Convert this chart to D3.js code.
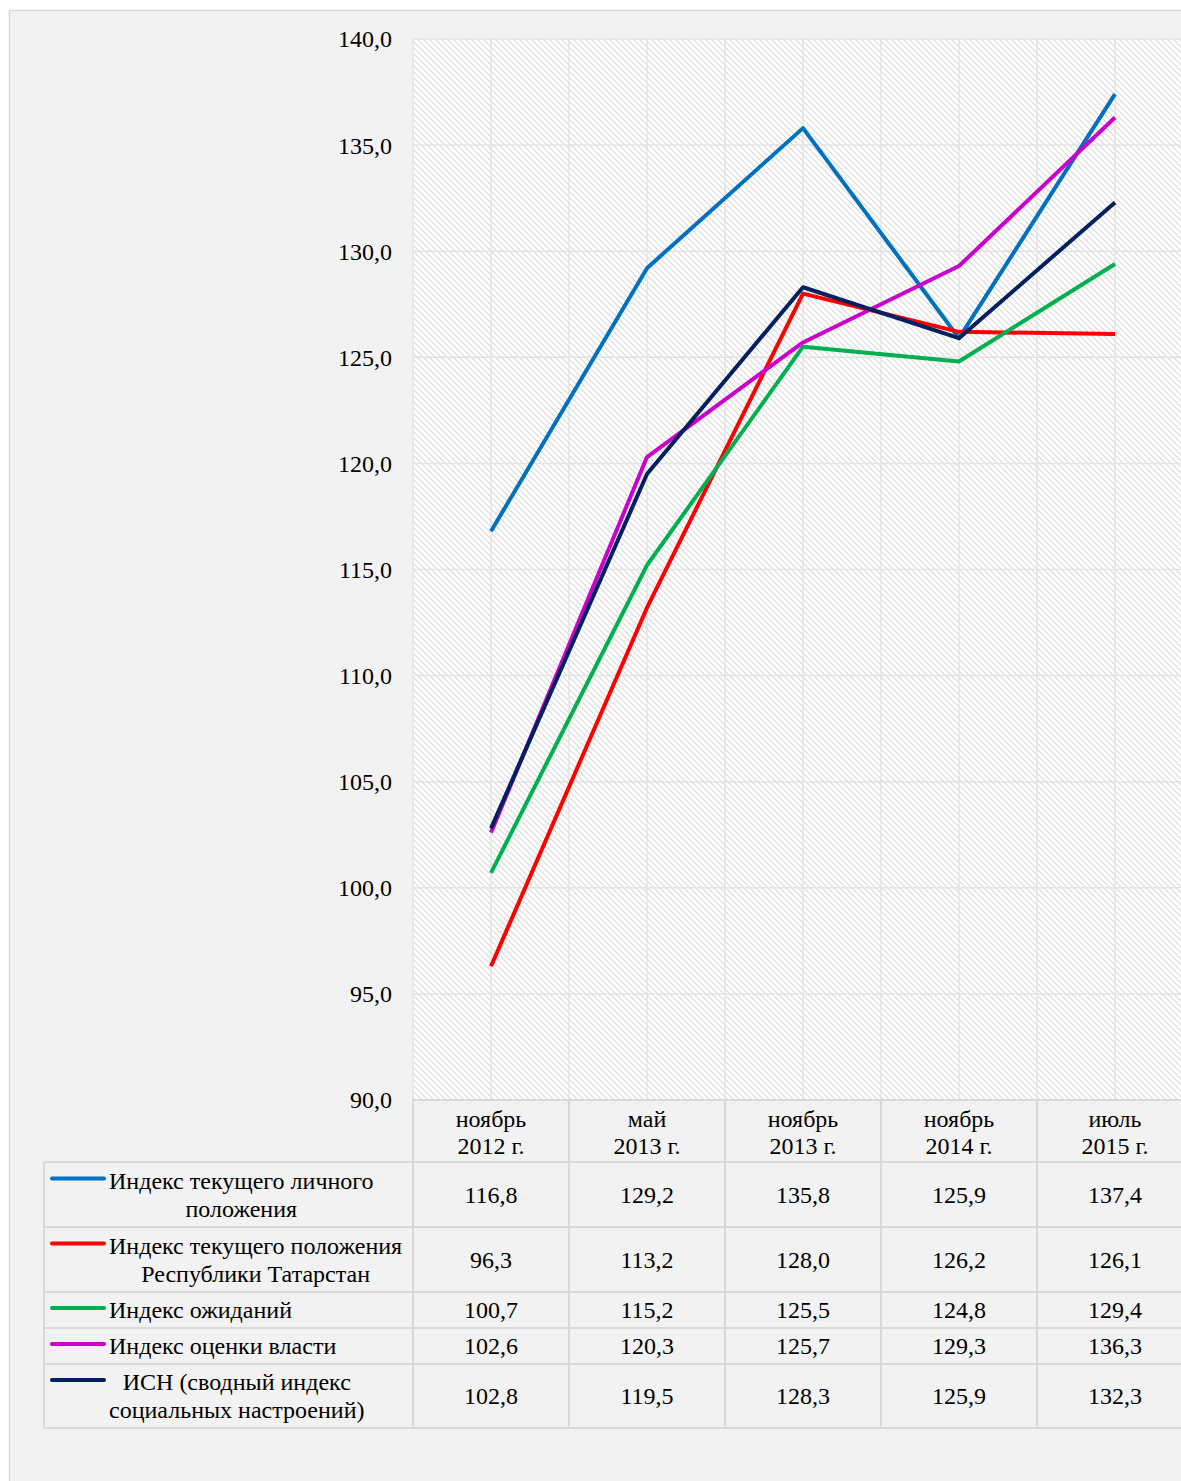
<!DOCTYPE html>
<html>
<head>
<meta charset="utf-8">
<script src="https://cdn.jsdelivr.net/npm/d3@7"></script>
<style>
  body { margin: 0; background: #fff; }
  text { font-family: "Liberation Serif", "Times New Roman", serif; fill: #000; }
</style>
</head>
<body>
<div id="chart"></div>
<script>
// data
var categories = [["ноябрь", "2012 г."], ["май", "2013 г."], ["ноябрь", "2013 г."], ["ноябрь", "2014 г."], ["июль", "2015 г."]];
var seriesNames = [
  ["Индекс текущего личного", "положения"],
  ["Индекс текущего положения", "Республики Татарстан"],
  ["Индекс ожиданий"],
  ["Индекс оценки власти"],
  ["ИСН (сводный индекс", "социальных настроений)"]
];
var personal = [116.8, 129.2, 135.8, 125.9, 137.4];
var republic = [96.3, 113.2, 128.0, 126.2, 126.1];
var expect = [100.7, 115.2, 125.5, 124.8, 129.4];
var power = [102.6, 120.3, 125.7, 129.3, 136.3];
var isn = [102.8, 119.5, 128.3, 125.9, 132.3];
var yTicks = [90, 95, 100, 105, 110, 115, 120, 125, 130, 135, 140];

var seriesValues = [personal, republic, expect, power, isn];
var colors = ["#0070c0", "#ff0000", "#00b050", "#cc00cc", "#002060"];

var W = 1181, H = 1481;
var fs = 24;
var svg = d3.select("#chart").append("svg")
  .attr("width", W).attr("height", H);

// chart area background
svg.append("rect")
  .attr("x", 9.5).attr("y", 10.5)
  .attr("width", W).attr("height", H)
  .attr("fill", "#f2f2f2")
  .attr("stroke", "#d9d9d9").attr("stroke-width", 1.5);

var defs = svg.append("defs");
var pat = defs.append("pattern")
  .attr("id", "hatch")
  .attr("patternUnits", "userSpaceOnUse")
  .attr("width", 6).attr("height", 6);
pat.append("rect").attr("width", 6).attr("height", 6).attr("fill", "#ffffff");
pat.append("path")
  .attr("d", "M0,0 L6,6 M-1,5 L1,7 M5,-1 L7,1")
  .attr("stroke", "#d9d9d9").attr("stroke-width", 1.1);

var plotLeft = 413, plotTop = 39, plotBottom = 1100;
var band = 156;
var plotRight = plotLeft + band * categories.length;

var x = d3.scaleBand()
  .domain(d3.range(categories.length))
  .range([plotLeft, plotRight]);
var y = d3.scaleLinear().domain([90, 140]).range([plotBottom, plotTop]);

// plot area
svg.append("rect")
  .attr("x", plotLeft).attr("y", plotTop)
  .attr("width", plotRight - plotLeft).attr("height", plotBottom - plotTop)
  .attr("fill", "url(#hatch)");

// gridlines
var grid = svg.append("g").attr("stroke", "#e3e3e3").attr("stroke-width", 1.5);
grid.selectAll(".hg").data(yTicks).enter().append("line")
  .attr("x1", plotLeft).attr("x2", plotRight)
  .attr("y1", function(d) { return y(d); })
  .attr("y2", function(d) { return y(d); });
var vlines = [];
d3.range(categories.length).forEach(function(i) {
  vlines.push(x(i));
  vlines.push(x(i) + x.bandwidth() / 2);
});
grid.selectAll(".vg").data(vlines).enter().append("line")
  .attr("x1", function(d) { return d; }).attr("x2", function(d) { return d; })
  .attr("y1", plotTop).attr("y2", plotBottom);

// y axis labels
svg.append("g").selectAll("text").data(yTicks).enter().append("text")
  .attr("x", 392)
  .attr("y", function(d) { return y(d); })
  .attr("dy", "0.35em")
  .attr("text-anchor", "end")
  .attr("font-size", fs)
  .text(function(d) { return d3.format(".1f")(d).replace(".", ","); });

// lines
var line = d3.line()
  .x(function(d, i) { return x(i) + x.bandwidth() / 2; })
  .y(function(d) { return y(d); });

seriesValues.forEach(function(vals, k) {
  svg.append("path")
    .datum(vals)
    .attr("d", line)
    .attr("fill", "none")
    .attr("stroke", colors[k])
    .attr("stroke-width", 4)
    .attr("stroke-linejoin", "round");
});

// data table
var rowEdges = [1162, 1227, 1292, 1328, 1364, 1428];
var tleft = 44;
var tg = svg.append("g");
var tb = tg.append("g").attr("stroke", "#d9d9d9").attr("stroke-width", 2).attr("fill", "none");
tb.append("line").attr("x1", plotLeft).attr("x2", W + 5).attr("y1", plotBottom).attr("y2", plotBottom);
rowEdges.forEach(function(r) {
  tb.append("line").attr("x1", tleft).attr("x2", W + 5).attr("y1", r).attr("y2", r);
});
tb.append("line").attr("x1", tleft).attr("x2", tleft).attr("y1", rowEdges[0]).attr("y2", rowEdges[rowEdges.length - 1]);
d3.range(categories.length + 1).forEach(function(i) {
  var xx = plotLeft + band * i;
  tb.append("line").attr("x1", xx).attr("x2", xx).attr("y1", plotBottom).attr("y2", rowEdges[rowEdges.length - 1]);
});

// category header
categories.forEach(function(c, i) {
  var cx = x(i) + x.bandwidth() / 2;
  var t = tg.append("text")
    .attr("text-anchor", "middle")
    .attr("font-size", fs);
  t.append("tspan").attr("x", cx).attr("y", 1119).attr("dy", "0.35em").text(c[0]);
  t.append("tspan").attr("x", cx).attr("y", 1146).attr("dy", "0.35em").text(c[1]);
});

// legend + values
seriesValues.forEach(function(vals, k) {
  var r0 = rowEdges[k], r1 = rowEdges[k + 1];
  var mid = (r0 + r1) / 2;
  var names = seriesNames[k];
  var firstY = names.length > 1 ? mid - 14 : mid;

  tg.append("line")
    .attr("x1", 52).attr("x2", 104)
    .attr("y1", firstY - 2).attr("y2", firstY - 2)
    .attr("stroke", colors[k]).attr("stroke-width", 4)
    .attr("stroke-linecap", "round");

  var lbl = tg.append("text").attr("font-size", fs).attr("text-anchor", "middle");
  var spans = names.map(function(n, j) {
    return lbl.append("tspan").attr("y", firstY + j * 28).attr("dy", "0.35em").text(n);
  });
  var maxW = d3.max(spans, function(s) { return s.node().getComputedTextLength(); });
  spans.forEach(function(s) { s.attr("x", 109 + maxW / 2); });

  vals.forEach(function(v, i) {
    tg.append("text")
      .attr("x", x(i) + x.bandwidth() / 2)
      .attr("y", mid)
      .attr("dy", "0.35em")
      .attr("text-anchor", "middle")
      .attr("font-size", fs)
      .text(d3.format(".1f")(v).replace(".", ","));
  });
});
</script>
</body>
</html>
